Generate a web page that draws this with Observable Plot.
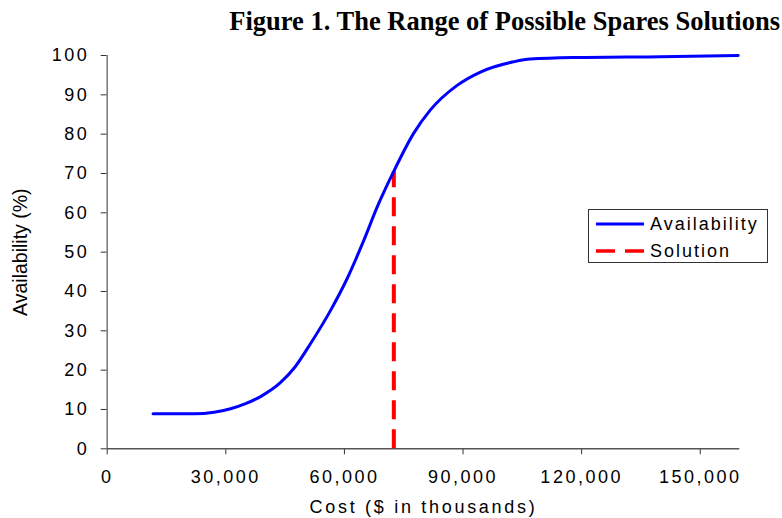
<!DOCTYPE html>
<html>
<head>
<meta charset="utf-8">
<script src="https://cdn.jsdelivr.net/npm/d3@7"></script>
<script src="https://cdn.jsdelivr.net/npm/@observablehq/plot@0.6"></script>
<style>
  html, body { margin: 0; padding: 0; background: #fff; }
  #wrap { position: relative; width: 782px; height: 518px; overflow: hidden; }
  #title { position: absolute; right: 2px; top: 6px; font-family: "Liberation Serif", "Times New Roman", serif; font-weight: bold; font-size: 26.5px; color: #000; white-space: nowrap; line-height: 30px; }
  #chart { position: absolute; left: 0; top: 40px; }
  #chart svg g[aria-label="x-axis tick label"] text,
  #chart svg g[aria-label="y-axis tick label"] text { letter-spacing: 2.5px; }
  #chart svg g[aria-label="x-axis label"] text { letter-spacing: 2.7px; }
  #legend { position: absolute; left: 588px; top: 209px; width: 180px; height: 54px; border: 1px solid #333; box-sizing: border-box; background: #fff; font-family: "Liberation Sans", Arial, sans-serif; font-size: 18px; letter-spacing: 2px; color: #000; }
  .row { position: absolute; left: 7px; height: 26px; display: flex; align-items: center; }
  .row svg { margin-right: 6px; }
</style>
</head>
<body>
<div id="wrap">
  <div id="title">Figure 1. The Range of Possible Spares Solutions</div>
  <div id="chart"></div>
  <div id="legend">
    <div class="row" style="top:1px"><svg width="48" height="6"><line x1="0" y1="3" x2="48" y2="3" stroke="#0000ff" stroke-width="3"/></svg><span>Availability</span></div>
    <div class="row" style="top:28px"><svg width="48" height="6"><line x1="0" y1="3" x2="48" y2="3" stroke="#ff0000" stroke-width="3.5" stroke-dasharray="19,10"/></svg><span>Solution</span></div>
  </div>
</div>
<script>
const costs = [11600, 17000, 22000, 27000, 31200, 35000, 39000, 43800, 47500, 51400, 56500, 60700, 64900, 68300, 72500, 77500, 81700, 88500, 94400, 102800, 107000, 119700, 140000, 159600];
const availability = [8.9, 8.9, 8.9, 9.3, 10.2, 11.5, 13.4, 16.8, 20.8, 26.7, 35.2, 43.3, 53.0, 61.5, 70.6, 80.2, 86.1, 92.4, 95.8, 98.4, 99.1, 99.5, 99.7, 100];
const solutionCost = [72500];
const solutionAvail = [70.5];
const xTicks = [0, 30000, 60000, 90000, 120000, 150000];
const yTicks = [0, 10, 20, 30, 40, 50, 60, 70, 80, 90, 100];

const curve = costs.map((c, i) => ({cost: c, avail: availability[i]}));
const solution = solutionCost.map((c, i) => ({cost: c, avail: solutionAvail[i]}));

const plot = Plot.plot({
  width: 782,
  height: 478,
  marginTop: 15,
  marginLeft: 106.7,
  marginRight: 42.7,
  marginBottom: 69.7,
  style: {fontFamily: "'Liberation Sans', Arial, sans-serif", fontSize: "18px", color: "#000", background: "#fff"},
  x: {domain: [0, 160000]},
  y: {domain: [0, 100]},
  marks: [
    Plot.axisX({ticks: xTicks, tickFormat: d3.format(","), tickSize: 6, tickPadding: 15, stroke: "#333", fill: "#000", fontSize: 18, label: "Cost ($ in thousands)", labelAnchor: "center", labelArrow: "none", labelOffset: 64}),
    Plot.axisY({ticks: yTicks, tickSize: 6, tickPadding: 12, stroke: "#333", fill: "#000", fontSize: 18, label: null}),
    Plot.axisY({ticks: [], label: "Availability (%)", labelAnchor: "center", labelArrow: "none", labelOffset: 94, fontSize: 19.5, tickSize: 0}),
    Plot.ruleX([0], {stroke: "#777", strokeWidth: 1.5}),
    Plot.ruleY([0], {stroke: "#555", strokeWidth: 1.5}),
    Plot.ruleX(solution, {x: "cost", y1: 0, y2: "avail", stroke: "#ff0000", strokeWidth: 4, strokeDasharray: "19,10"}),
    Plot.line(curve, {x: "cost", y: "avail", stroke: "#0000ff", strokeWidth: 3, curve: "monotone-x"})
  ]
});
document.getElementById("chart").appendChild(plot);
</script>
</body>
</html>
